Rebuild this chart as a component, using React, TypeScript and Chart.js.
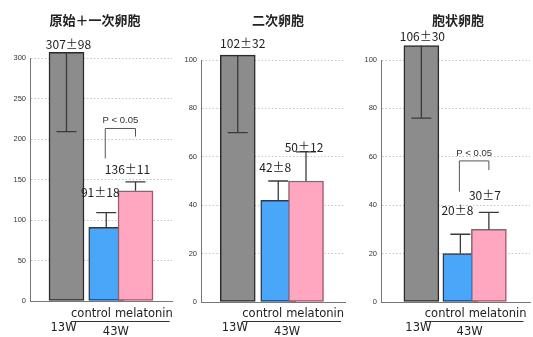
import React, { useEffect, useRef } from "react";
import { Chart, registerables } from "chart.js";

Chart.register(...registerables);

// ---------------- data ----------------
const GROUPS = ["13W", "control", "melatonin"];
const GROUP_43W = "43W";
const PANEL_TITLES = ["原始＋一次卵胞", "二次卵胞", "胞状卵胞"];

const PRIMARY_MEAN = [307, 91, 136];
const PRIMARY_SD = [98, 18, 11];
const SECONDARY_MEAN = [102, 42, 50];
const SECONDARY_SD = [32, 8, 12];
const ANTRAL_MEAN = [106, 20, 30];
const ANTRAL_SD = [30, 8, 7];

const Y_MAX = [300, 100, 100];
const Y_STEP = [50, 20, 20];
const SIGNIFICANT = [true, false, true];
const P_LABEL = "P < 0.05";
// 13W error bar drawn downward, 43W error bars drawn upward
const ERR_DIR = [-1, 1, 1];

const MEANS = [PRIMARY_MEAN, SECONDARY_MEAN, ANTRAL_MEAN];
const SDS = [PRIMARY_SD, SECONDARY_SD, ANTRAL_SD];

// ---------------- styles / layout ----------------
const FILL = ["#8c8c8c", "#4aa6f8", "#ffa7c1"];
const EDGE = ["#2a2a2a", "#1e3b66", "#9a5b6c"];
const W = 533;
const H = 337;
const AXIS_W = 22;
const CAT_FONT = '11.5px "DejaVu Sans"';

const LAYOUT = [
  {
    axisX: 30, right: 172, top: 58, bottom: 301, titleX: 95,
    slots: [25, 78, 117], labelGap: [8, 20, 12], labelDx: [2, -6, -8],
    bracket: { top: 213, left: 176, right: 203 },
  },
  {
    axisX: 201, right: 345, top: 60, bottom: 302, titleX: 278,
    slots: [25, 79, 116], labelGap: [12, 14, 5], labelDx: [5, -3, -2],
    bracket: null,
  },
  {
    axisX: 381, right: 530, top: 60, bottom: 302, titleX: 458,
    slots: [29, 81, 119], labelGap: [9, 24, 17], labelDx: [1, -3, -4],
    bracket: { top: 58.3, left: 45.6, right: 54.5 },
  },
];

function makeAnnotations(idx: number) {
  return {
    id: "annot" + idx,
    afterDatasetsDraw(chart: any) {
      const { ctx } = chart;
      const y = chart.scales.y;
      const L = LAYOUT[idx];
      const means = MEANS[idx];
      const sds = SDS[idx];
      const bars = chart.getDatasetMeta(0).data;
      ctx.save();

      // error bars
      ctx.strokeStyle = "#3a3a3a";
      ctx.lineWidth = 1.3;
      means.forEach((m, i) => {
        const bx = bars[i].x;
        const y0 = y.getPixelForValue(m);
        const y1 = y.getPixelForValue(m + ERR_DIR[i] * sds[i]);
        ctx.beginPath();
        ctx.moveTo(bx, y0);
        ctx.lineTo(bx, y1);
        ctx.moveTo(bx - 10, y1);
        ctx.lineTo(bx + 10, y1);
        ctx.stroke();
      });

      // value labels
      ctx.fillStyle = "#222";
      ctx.textAlign = "center";
      ctx.textBaseline = "middle";
      ctx.font = '12px "Noto Sans CJK JP"';
      means.forEach((m, i) => {
        const top = Math.max(m, m + ERR_DIR[i] * sds[i]);
        const bx = bars[i].x + L.labelDx[i];
        const ty = y.getPixelForValue(top) - L.labelGap[i];
        ctx.fillText(`${m}±${sds[i]}`, bx, ty);
      });

      // title
      ctx.font = 'bold 13px "Noto Sans CJK JP"';
      ctx.fillText(PANEL_TITLES[idx], L.titleX, 20);

      // significance bracket
      if (SIGNIFICANT[idx] && L.bracket) {
        const b = L.bracket;
        const xl = bars[1].x - 1;
        const xr = bars[2].x;
        const yt = y.getPixelForValue(b.top);
        ctx.strokeStyle = "#555";
        ctx.lineWidth = 1;
        ctx.beginPath();
        ctx.moveTo(xl, y.getPixelForValue(b.left));
        ctx.lineTo(xl, yt);
        ctx.lineTo(xr, yt);
        ctx.lineTo(xr, y.getPixelForValue(b.right));
        ctx.stroke();
        ctx.font = '9.5px "Liberation Sans"';
        ctx.fillStyle = "#333";
        ctx.fillText(P_LABEL, (xl + xr) / 2, yt - 8);
      }

      // category labels
      ctx.fillStyle = "#222";
      ctx.font = CAT_FONT;
      ctx.fillText(GROUPS[0], bars[0].x - 3, 328);
      const mid = (bars[1].x + bars[2].x) / 2;
      const w1 = ctx.measureText(GROUPS[1]).width;
      const w2 = ctx.measureText(GROUPS[2]).width;
      const gap = 4;
      const total = w1 + gap + w2;
      const start = mid + 1 - total / 2;
      ctx.textAlign = "left";
      ctx.fillText(GROUPS[1], start, 314);
      ctx.fillText(GROUPS[2], start + w1 + gap, 314);
      ctx.textAlign = "center";
      ctx.fillText(GROUP_43W, mid - 5, 332.5);
      ctx.strokeStyle = "#333";
      ctx.lineWidth = 1;
      ctx.beginPath();
      ctx.moveTo(start, 321.5);
      ctx.lineTo(start + total - 3, 321.5);
      ctx.stroke();

      ctx.restore();
    },
  };
}

function Panel({ idx }: { idx: number }) {
  const ref = useRef<HTMLCanvasElement | null>(null);
  useEffect(() => {
    if (!ref.current) return;
    const L = LAYOUT[idx];
    const chart = new Chart(ref.current, {
      type: "bar",
      data: {
        datasets: [
          {
            data: MEANS[idx].map((m, i) => ({ x: L.slots[i], y: m })),
            backgroundColor: FILL,
            borderColor: EDGE,
            borderWidth: 1.5,
            borderSkipped: false,
            barThickness: 35,
            clip: false as any,
          },
        ],
      },
      options: {
        responsive: false,
        animation: false,
        events: [],
        layout: {
          padding: {
            left: L.axisX - AXIS_W,
            right: W - L.right,
            top: L.top,
            bottom: H - L.bottom,
          },
        },
        plugins: { legend: { display: false }, tooltip: { enabled: false }, title: { display: false } },
        scales: {
          x: {
            type: "linear",
            min: 0,
            max: L.right - L.axisX,
            ticks: { display: false },
            grid: { display: false },
            border: { display: true, color: "#777", width: 1 },
            afterFit: (s: any) => {
              s.height = 0;
            },
          },
          y: {
            min: 0,
            max: Y_MAX[idx],
            ticks: {
              stepSize: Y_STEP[idx],
              padding: 4,
              color: "#333",
              font: { family: "Liberation Sans", size: 7.5 },
            },
            grid: { color: "#c4c4c4", lineWidth: 1, drawTicks: false },
            border: { display: true, color: "#777", width: 1, dash: [1.5, 2] },
            afterFit: (s: any) => {
              s.width = AXIS_W;
            },
          },
        },
      } as any,
      plugins: [makeAnnotations(idx)],
    });
    return () => chart.destroy();
  }, [idx]);
  return (
    <canvas
      ref={ref}
      width={W}
      height={H}
      style={{ position: "absolute", left: 0, top: 0, width: W, height: H }}
    />
  );
}

export default function App() {
  return (
    <div
      style={{
        position: "fixed",
        left: 0,
        top: 0,
        width: W,
        height: H,
        background: "#fff",
        overflow: "hidden",
      }}
    >
      {[0, 1, 2].map((i) => (
        <Panel key={i} idx={i} />
      ))}
    </div>
  );
}
